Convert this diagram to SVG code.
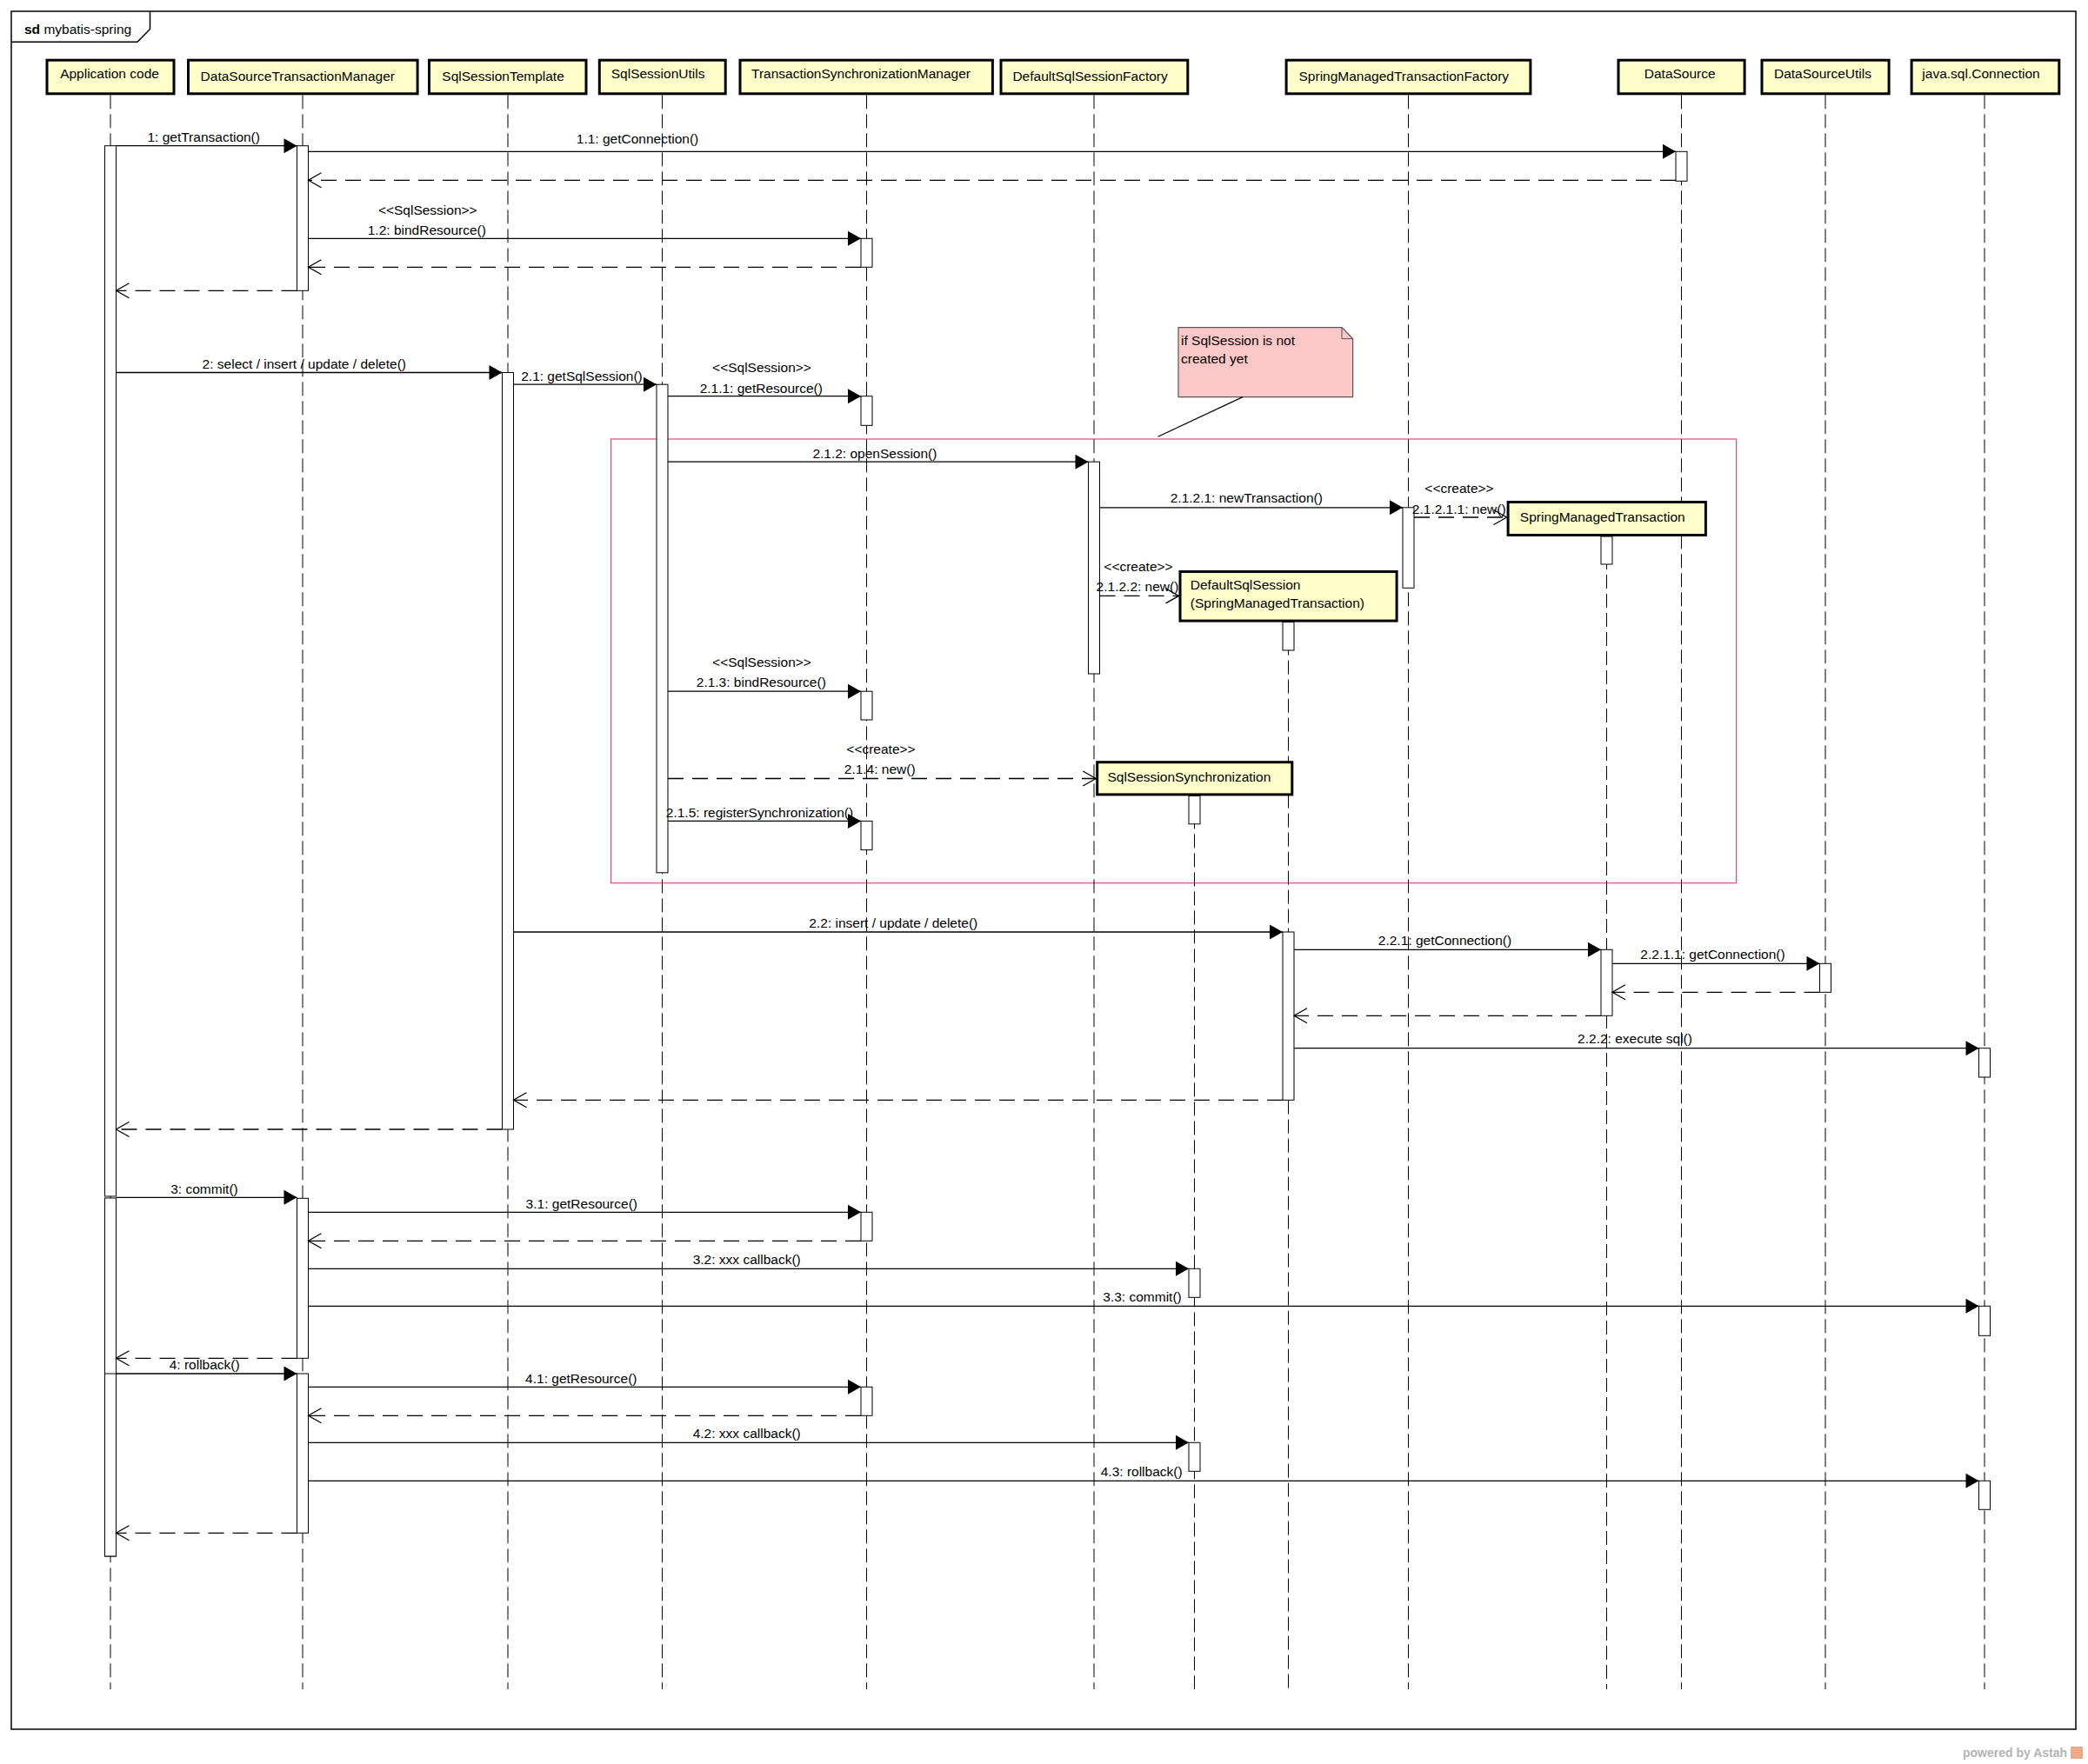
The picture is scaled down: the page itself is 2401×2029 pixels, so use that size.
<svg xmlns="http://www.w3.org/2000/svg" width="2401" height="2029" viewBox="0 0 2401 2029">
<style>
text{font-family:"Liberation Sans",Arial,sans-serif;font-size:15.5px;fill:#000}
.c{text-anchor:middle}
.hdr{fill:#ffffcc;stroke:#000;stroke-width:3}
.ll{stroke:#000;stroke-width:1;stroke-dasharray:16 6;fill:none}
.act{fill:#fff;stroke:#000;stroke-width:1}
.msg{stroke:#000;stroke-width:1.3;fill:none;marker-end:url(#filled)}
.ret{stroke:#000;stroke-width:1.3;stroke-dasharray:18 10;fill:none;marker-end:url(#open)}
</style>
<defs>
<marker id="filled" markerUnits="userSpaceOnUse" markerWidth="16" markerHeight="18" refX="15" refY="8.5" orient="auto" overflow="visible"><path d="M0,0 L15,8.5 L0,17 z" fill="#000"/></marker>
<marker id="open" markerUnits="userSpaceOnUse" markerWidth="16" markerHeight="18" refX="15" refY="8.5" orient="auto" overflow="visible"><path d="M0,0 L15,8.5 L0,17" fill="none" stroke="#000" stroke-width="1.3"/></marker>
</defs>
<rect width="2401" height="2029" fill="#fff"/>
<g id="frame">
<rect x="13" y="13" width="2374" height="1976" fill="none" stroke="#000" stroke-width="1.5"/>
<path d="M13,48.3 L158,48.3 L172.5,33.5 L172.5,13" fill="none" stroke="#000" stroke-width="1.5"/>
<text x="28" y="38.5"><tspan font-weight="bold">sd</tspan> mybatis-spring</text>
</g>
<g id="fragment">
<rect x="702.6" y="505" width="1294" height="510.7" fill="none" stroke="#d4507c" stroke-width="1.2"/>
</g>
<g id="lifeline-app">
<line class="ll" x1="127" y1="109.3" x2="127" y2="1943"/>
<rect class="hdr" x="54" y="69.2" width="146" height="38.6"/>
<text class="c" x="126" y="90">Application code</text>
<rect class="act" x="120.5" y="167.7" width="13" height="1208.3"/>
<rect class="act" x="120.5" y="1378" width="13" height="412"/>
<rect class="act" x="120.5" y="1580" width="13" height="210"/>
</g>
<g id="lifeline-dstm">
<line class="ll" x1="348" y1="109.3" x2="348" y2="1943"/>
<rect class="hdr" x="216.5" y="69.2" width="263.6" height="38.6"/>
<text class="c" x="342.3" y="93">DataSourceTransactionManager</text>
<rect class="act" x="341.5" y="167.7" width="13" height="166.6"/>
<rect class="act" x="341.5" y="1378.3" width="13" height="184"/>
<rect class="act" x="341.5" y="1580" width="13" height="183.3"/>
</g>
<g id="lifeline-sst">
<line class="ll" x1="584" y1="109.3" x2="584" y2="1943"/>
<rect class="hdr" x="493.5" y="69.2" width="180.5" height="38.6"/>
<text class="c" x="578.6" y="93">SqlSessionTemplate</text>
<rect class="act" x="577.5" y="428.5" width="13" height="870.5"/>
</g>
<g id="lifeline-ssu">
<line class="ll" x1="761.5" y1="109.3" x2="761.5" y2="1943"/>
<rect class="hdr" x="689.3" y="69.2" width="144.9" height="38.6"/>
<text class="c" x="756.6" y="90">SqlSessionUtils</text>
<rect class="act" x="755" y="442.2" width="13" height="561.6"/>
</g>
<g id="lifeline-tsm">
<line class="ll" x1="996.5" y1="109.3" x2="996.5" y2="1943"/>
<rect class="hdr" x="851" y="69.2" width="290.4" height="38.6"/>
<text class="c" x="990" y="90">TransactionSynchronizationManager</text>
<rect class="act" x="990" y="274.3" width="13" height="33"/>
<rect class="act" x="990" y="455.7" width="13" height="33.6"/>
<rect class="act" x="990" y="795.2" width="13" height="32.8"/>
<rect class="act" x="990" y="944.4" width="13" height="33.2"/>
<rect class="act" x="990" y="1394.3" width="13" height="33"/>
<rect class="act" x="990" y="1595.3" width="13" height="33"/>
</g>
<g id="lifeline-dssf">
<line class="ll" x1="1258" y1="109.3" x2="1258" y2="1943"/>
<rect class="hdr" x="1151" y="69.2" width="214.8" height="38.6"/>
<text class="c" x="1253.6" y="93">DefaultSqlSessionFactory</text>
<rect class="act" x="1251.5" y="531.2" width="13" height="243.8"/>
</g>
<g id="lifeline-smtf">
<line class="ll" x1="1619.5" y1="109.3" x2="1619.5" y2="1943"/>
<rect class="hdr" x="1479.1" y="69.2" width="280.8" height="38.6"/>
<text class="c" x="1614.3" y="93">SpringManagedTransactionFactory</text>
<rect class="act" x="1613" y="583.8" width="13" height="92.5"/>
</g>
<g id="lifeline-ds">
<line class="ll" x1="1933.5" y1="109.3" x2="1933.5" y2="1943"/>
<rect class="hdr" x="1861" y="69.2" width="145.1" height="38.6"/>
<text class="c" x="1931.7" y="90">DataSource</text>
<rect class="act" x="1927" y="174.3" width="13" height="34"/>
</g>
<g id="lifeline-dsu">
<line class="ll" x1="2099" y1="109.3" x2="2099" y2="1943"/>
<rect class="hdr" x="2026" y="69.2" width="146.1" height="38.6"/>
<text class="c" x="2096" y="90">DataSourceUtils</text>
<rect class="act" x="2092.5" y="1108.3" width="13" height="33"/>
</g>
<g id="lifeline-jsc">
<line class="ll" x1="2282" y1="109.3" x2="2282" y2="1943"/>
<rect class="hdr" x="2198.1" y="69.2" width="169.7" height="38.6"/>
<text class="c" x="2278" y="90">java.sql.Connection</text>
<rect class="act" x="2275.5" y="1205.7" width="13" height="33.3"/>
<rect class="act" x="2275.5" y="1502.3" width="13" height="34"/>
<rect class="act" x="2275.5" y="1703.3" width="13" height="33"/>
</g>
<g id="lifeline-smt">
<line class="ll" x1="1847.5" y1="617" x2="1847.5" y2="1943"/>
<rect class="hdr" x="1734.1" y="577.5" width="227.3" height="38"/>
<text class="c" x="1842.8" y="600.4">SpringManagedTransaction</text>
<rect class="act" x="1841" y="617" width="13" height="32"/>
<rect class="act" x="1841" y="1092.3" width="13" height="76"/>
</g>
<g id="lifeline-dss">
<line class="ll" x1="1481.5" y1="715.6" x2="1481.5" y2="1943"/>
<rect class="hdr" x="1357" y="657.5" width="249.1" height="56.6"/>
<text x="1368.8" y="678.3">DefaultSqlSession</text>
<text x="1368.8" y="699">(SpringManagedTransaction)</text>
<rect class="act" x="1475" y="715.6" width="13" height="32.4"/>
<rect class="act" x="1475" y="1072" width="13" height="193.3"/>
</g>
<g id="lifeline-sss">
<line class="ll" x1="1373.5" y1="915.4" x2="1373.5" y2="1943"/>
<rect class="hdr" x="1261.7" y="876.7" width="224.1" height="37.2"/>
<text class="c" x="1367.4" y="898.8">SqlSessionSynchronization</text>
<rect class="act" x="1367" y="915.4" width="13" height="32.4"/>
<rect class="act" x="1367" y="1459.3" width="13" height="33"/>
<rect class="act" x="1367" y="1659.3" width="13" height="33"/>
</g>
<g id="note">
<path d="M1355,376.6 L1543,376.6 L1555.6,389.6 L1555.6,456.6 L1355,456.6 Z" fill="#ffc8c8" stroke="#555" stroke-width="1.2"/>
<path d="M1543,376.6 L1543,389.6 L1555.6,389.6" fill="none" stroke="#555" stroke-width="1"/>
<text x="1358" y="396.5">if SqlSession is not</text>
<text x="1358" y="418">created yet</text>
<line x1="1429" y1="456.6" x2="1331.6" y2="502.2" stroke="#000" stroke-width="1.2"/>
</g>
<g id="connectors">
<line class="msg" x1="133.5" y1="167.7" x2="341.5" y2="167.7"/>
<line class="msg" x1="354.5" y1="174.3" x2="1927" y2="174.3"/>
<line class="ret" x1="1927" y1="207.3" x2="354.5" y2="207.3"/>
<line class="msg" x1="354.5" y1="274.3" x2="990" y2="274.3"/>
<line class="ret" x1="990" y1="307.3" x2="354.5" y2="307.3"/>
<line class="ret" x1="341.5" y1="334.3" x2="133.5" y2="334.3"/>
<line class="msg" x1="133.5" y1="428.5" x2="577.5" y2="428.5"/>
<line class="msg" x1="590.5" y1="442.2" x2="755" y2="442.2"/>
<line class="msg" x1="768" y1="455.7" x2="990" y2="455.7"/>
<line class="msg" x1="768" y1="531.2" x2="1251.5" y2="531.2"/>
<line class="msg" x1="1264.5" y1="583.8" x2="1613" y2="583.8"/>
<line class="ret" x1="1626" y1="595" x2="1732.6" y2="595"/>
<line class="ret" x1="1264.5" y1="685.4" x2="1355.5" y2="685.4"/>
<line class="msg" x1="768" y1="795.2" x2="990" y2="795.2"/>
<line class="ret" x1="768" y1="895.5" x2="1260.2" y2="895.5"/>
<line class="msg" x1="768" y1="944.4" x2="990" y2="944.4"/>
<line class="msg" x1="590.5" y1="1072" x2="1475" y2="1072"/>
<line class="msg" x1="1488" y1="1092.3" x2="1841" y2="1092.3"/>
<line class="msg" x1="1854" y1="1108.3" x2="2092.5" y2="1108.3"/>
<line class="ret" x1="2092.5" y1="1141.3" x2="1854" y2="1141.3"/>
<line class="ret" x1="1841" y1="1168.3" x2="1488" y2="1168.3"/>
<line class="msg" x1="1488" y1="1205.7" x2="2275.5" y2="1205.7"/>
<line class="ret" x1="1475" y1="1265.3" x2="590.5" y2="1265.3"/>
<line class="ret" x1="577.5" y1="1299" x2="133.5" y2="1299"/>
<line class="msg" x1="133.5" y1="1377.3" x2="341.5" y2="1377.3"/>
<line class="msg" x1="354.5" y1="1394.3" x2="990" y2="1394.3"/>
<line class="ret" x1="990" y1="1427.3" x2="354.5" y2="1427.3"/>
<line class="msg" x1="354.5" y1="1459.3" x2="1367" y2="1459.3"/>
<line class="msg" x1="354.5" y1="1502.3" x2="2275.5" y2="1502.3"/>
<line class="ret" x1="341.5" y1="1562.3" x2="133.5" y2="1562.3"/>
<line class="msg" x1="133.5" y1="1580" x2="341.5" y2="1580"/>
<line class="msg" x1="354.5" y1="1595.3" x2="990" y2="1595.3"/>
<line class="ret" x1="990" y1="1628.3" x2="354.5" y2="1628.3"/>
<line class="msg" x1="354.5" y1="1659.3" x2="1367" y2="1659.3"/>
<line class="msg" x1="354.5" y1="1703.3" x2="2275.5" y2="1703.3"/>
<line class="ret" x1="341.5" y1="1763.3" x2="133.5" y2="1763.3"/>
</g>
<g id="labels">
<text class="c" x="234.2" y="163.3">1: getTransaction()</text>
<text class="c" x="733" y="165">1.1: getConnection()</text>
<text class="c" x="491.8" y="246.5">&lt;&lt;SqlSession&gt;&gt;</text>
<text class="c" x="490.8" y="270">1.2: bindResource()</text>
<text class="c" x="349.8" y="424">2: select / insert / update / delete()</text>
<text class="c" x="669" y="438.3">2.1: getSqlSession()</text>
<text class="c" x="876" y="428.4">&lt;&lt;SqlSession&gt;&gt;</text>
<text class="c" x="875.3" y="452">2.1.1: getResource()</text>
<text class="c" x="1005.9" y="526.6">2.1.2: openSession()</text>
<text class="c" x="1433.3" y="578.4">2.1.2.1: newTransaction()</text>
<text class="c" x="1678" y="567.3">&lt;&lt;create&gt;&gt;</text>
<text class="c" x="1677.7" y="590.9">2.1.2.1.1: new()</text>
<text class="c" x="1309" y="657.2">&lt;&lt;create&gt;&gt;</text>
<text class="c" x="1308" y="680.4">2.1.2.2: new()</text>
<text class="c" x="876" y="767">&lt;&lt;SqlSession&gt;&gt;</text>
<text class="c" x="875.3" y="790.3">2.1.3: bindResource()</text>
<text class="c" x="1013" y="866.5">&lt;&lt;create&gt;&gt;</text>
<text class="c" x="1011.7" y="889.7">2.1.4: new()</text>
<text class="c" x="873.5" y="939.5">2.1.5: registerSynchronization()</text>
<text class="c" x="1027.3" y="1066.7">2.2: insert / update / delete()</text>
<text class="c" x="1661.5" y="1087.3">2.2.1: getConnection()</text>
<text class="c" x="1969.5" y="1103.3">2.2.1.1: getConnection()</text>
<text class="c" x="1880" y="1200">2.2.2: execute sql()</text>
<text class="c" x="235" y="1373.3">3: commit()</text>
<text class="c" x="668.8" y="1390">3.1: getResource()</text>
<text class="c" x="858.7" y="1454.3">3.2: xxx callback()</text>
<text class="c" x="1313.5" y="1496.7">3.3: commit()</text>
<text class="c" x="235.2" y="1575">4: rollback()</text>
<text class="c" x="668.3" y="1590.7">4.1: getResource()</text>
<text class="c" x="858.7" y="1654">4.2: xxx callback()</text>
<text class="c" x="1312.7" y="1697.7">4.3: rollback()</text>
</g>
<g id="watermark">
<text x="2257" y="2021" style="font-size:14px;font-weight:bold;fill:#b4b4b4">powered by Astah</text>
<rect x="2381" y="2009" width="14" height="14" fill="#eea98a"/>
</g>
</svg>
